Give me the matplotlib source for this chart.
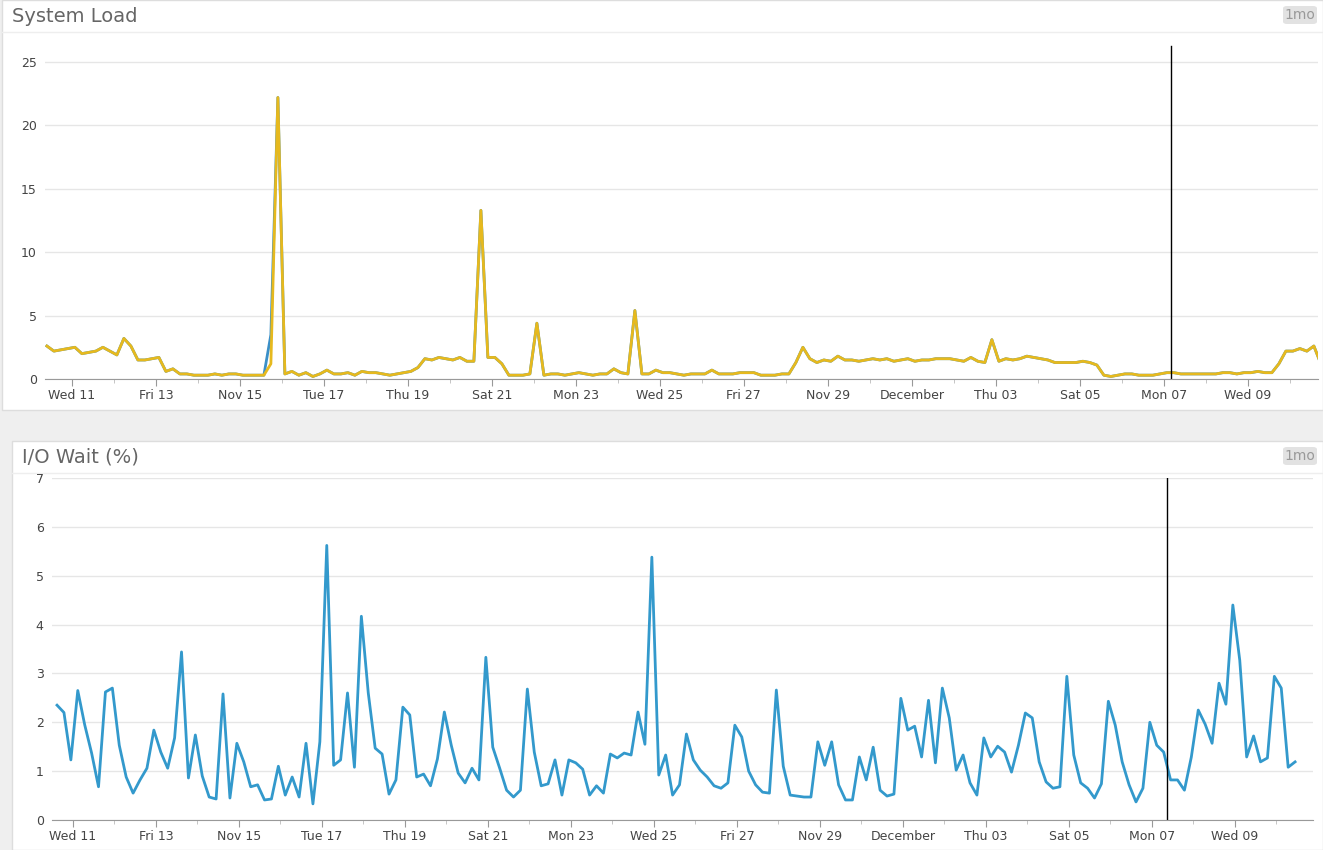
import matplotlib
matplotlib.use("Agg")
import matplotlib.pyplot as plt
from matplotlib.patches import FancyBboxPatch, Rectangle
import numpy as np

W, H = 1323, 850
tick_days = list(range(0, 29, 2))
tick_labels = ["Wed 11", "Fri 13", "Nov 15", "Tue 17", "Thu 19", "Sat 21", "Mon 23",
               "Wed 25", "Fri 27", "Nov 29", "December", "Thu 03", "Sat 05", "Mon 07", "Wed 09"]
marker_day = 26.2
step_days = 4 / 24

load_start = -0.595
load = [2.6, 2.2, 2.3, 2.4, 2.5, 2.0, 2.1, 2.2, 2.5, 2.2, 1.9, 3.2, 2.6, 1.5, 1.5, 1.6, 1.7, 0.6, 0.8, 0.4,
        0.4, 0.3, 0.3, 0.3, 0.4, 0.3, 0.4, 0.4, 0.3, 0.3, 0.3, 0.3, 1.2, 22.2, 0.4, 0.6, 0.3, 0.5, 0.2, 0.4,
        0.7, 0.4, 0.4, 0.5, 0.3, 0.6, 0.5, 0.5, 0.4, 0.3, 0.4, 0.5, 0.6, 0.9, 1.6, 1.5, 1.7, 1.6, 1.5, 1.7,
        1.4, 1.4, 13.3, 1.7, 1.7, 1.2, 0.3, 0.3, 0.3, 0.4, 4.4, 0.3, 0.4, 0.4, 0.3, 0.4, 0.5, 0.4, 0.3, 0.4,
        0.4, 0.8, 0.5, 0.4, 5.4, 0.4, 0.4, 0.7, 0.5, 0.5, 0.4, 0.3, 0.4, 0.4, 0.4, 0.7, 0.4, 0.4, 0.4, 0.5,
        0.5, 0.5, 0.3, 0.3, 0.3, 0.4, 0.4, 1.3, 2.5, 1.6, 1.3, 1.5, 1.4, 1.8, 1.5, 1.5, 1.4, 1.5, 1.6, 1.5,
        1.6, 1.4, 1.5, 1.6, 1.4, 1.5, 1.5, 1.6, 1.6, 1.6, 1.5, 1.4, 1.7, 1.4, 1.3, 3.1, 1.4, 1.6, 1.5, 1.6,
        1.8, 1.7, 1.6, 1.5, 1.3, 1.3, 1.3, 1.3, 1.4, 1.3, 1.1, 0.3, 0.2, 0.3, 0.4, 0.4, 0.3, 0.3, 0.3, 0.4,
        0.5, 0.5, 0.4, 0.4, 0.4, 0.4, 0.4, 0.4, 0.5, 0.5, 0.4, 0.5, 0.5, 0.6, 0.5, 0.5, 1.2, 2.2, 2.2, 2.4,
        2.2, 2.6, 1.2, 2.0]
load_blue_spike = [(32, 3.5)]

iow_start = -0.385
iowait = [2.35, 2.2, 1.23, 2.65, 1.95, 1.37, 0.68, 2.62, 2.7, 1.53, 0.88, 0.55, 0.82, 1.06, 1.84, 1.39, 1.06,
          1.68, 3.44, 0.86, 1.74, 0.9, 0.47, 0.43, 2.58, 0.45, 1.57, 1.19, 0.68, 0.72, 0.41, 0.43, 1.1, 0.51,
          0.88, 0.47, 1.57, 0.33, 1.6, 5.62, 1.12, 1.23, 2.6, 1.08, 4.17, 2.6, 1.47, 1.35, 0.53, 0.82, 2.31,
          2.15, 0.88, 0.94, 0.7, 1.25, 2.21, 1.53, 0.96, 0.76, 1.06, 0.82, 3.33, 1.49, 1.06, 0.61, 0.47, 0.61,
          2.68, 1.39, 0.7, 0.74, 1.23, 0.51, 1.23, 1.17, 1.04, 0.51, 0.7, 0.55, 1.35, 1.27, 1.37, 1.33, 2.21,
          1.55, 5.38, 0.92, 1.33, 0.51, 0.72, 1.76, 1.23, 1.02, 0.88, 0.7, 0.65, 0.76, 1.94, 1.7, 1.0, 0.72,
          0.57, 0.55, 2.66, 1.1, 0.51, 0.49, 0.47, 0.47, 1.6, 1.12, 1.6, 0.72, 0.41, 0.41, 1.29, 0.82, 1.49,
          0.61, 0.49, 0.53, 2.49, 1.84, 1.92, 1.29, 2.45, 1.17, 2.7, 2.09, 1.02, 1.33, 0.76, 0.51, 1.68, 1.29,
          1.51, 1.39, 0.98, 1.53, 2.19, 2.09, 1.19, 0.78, 0.65, 0.68, 2.94, 1.33, 0.76, 0.65, 0.45, 0.74, 2.43,
          1.94, 1.19, 0.72, 0.37, 0.65, 2.0, 1.53, 1.39, 0.82, 0.82, 0.61, 1.29, 2.25, 1.96, 1.57, 2.8, 2.37,
          4.4, 3.27, 1.29, 1.72, 1.19, 1.27, 2.94, 2.7, 1.08, 1.19]

fig = plt.figure(figsize=(W / 100, H / 100), dpi=100)
fig.patch.set_facecolor("#efefef")

def px_rect(x0, y0, x1, y1):
    return [x0 / W, 1 - y1 / H, (x1 - x0) / W, (y1 - y0) / H]

def card(x0, y0, x1, y1, title, title_x):
    fig.patches.append(Rectangle((x0 / W, 1 - y1 / H), (x1 - x0) / W, (y1 - y0) / H,
                                 transform=fig.transFigure, facecolor="white",
                                 edgecolor="#dddddd", lw=1, zorder=-10))
    fig.lines.append(plt.Line2D([x0 / W, x1 / W], [1 - (y0 + 32) / H] * 2,
                                transform=fig.transFigure, color="#eeeeee", lw=1, zorder=-9))
    fig.text(title_x / W, 1 - (y0 + 16) / H, title, fontsize=14, color="#666666",
             va="center", ha="left")
    fig.patches.append(FancyBboxPatch((1283 / W, 1 - (y0 + 24) / H), 34 / W, 18 / H,
                                      boxstyle="round,pad=0,rounding_size=0.003",
                                      transform=fig.transFigure, facecolor="#e2e2e2",
                                      edgecolor="none", zorder=-9))
    fig.text(1300 / W, 1 - (y0 + 15) / H, "1mo", fontsize=10, color="#999999",
             ha="center", va="center")

def style(ax, ymax, yticks):
    ax.set_zorder(5)
    ax.set_ylim(0, ymax)
    ax.set_yticks(yticks)
    ax.set_xticks(tick_days)
    ax.set_xticklabels(tick_labels)
    ax.set_xticks([d + 1 for d in tick_days], minor=True)
    for s in ["left", "right", "top"]:
        ax.spines[s].set_visible(False)
    ax.spines["bottom"].set_color("#999999")
    ax.grid(axis="y", color="#e6e6e6", lw=1)
    ax.set_axisbelow(True)
    ax.tick_params(axis="y", length=0, labelsize=9, colors="#444444", pad=6)
    ax.tick_params(axis="x", which="major", length=5, color="#999999", labelsize=9,
                   labelcolor="#444444", pad=2)
    ax.tick_params(axis="x", which="minor", length=3, color="#bbbbbb")
    ax.patch.set_alpha(0)

card(2, 0, 1323, 410, "System Load", 12)
card(12, 441, 1323, 850, "I/O Wait (%)", 22)

ax1 = fig.add_axes(px_rect(45, 43, 1318, 379))
x1 = load_start + np.arange(len(load)) * step_days
blue = list(load)
for i, v in load_blue_spike:
    blue[i] = v
ax1.plot(x1, blue, color="#3a8fc8", lw=2)
ax1.plot(x1, load, color="#e6b91e", lw=2)
ax1.set_xlim(-0.64, 29.67)
ax1.axvline(marker_day - 0.03, color="black", lw=1, ymax=0.99)
style(ax1, 26.5, [0, 5, 10, 15, 20, 25])

ax2 = fig.add_axes(px_rect(52, 478, 1313, 820))
x2 = iow_start + np.arange(len(iowait)) * step_days
ax2.plot(x2, iowait, color="#3399cc", lw=2)
ax2.set_xlim(-0.506, 29.88)
ax2.axvline(marker_day + 0.15, color="black", lw=1)
style(ax2, 7, list(range(0, 8)))

fig.savefig("out.png", dpi=100, facecolor=fig.get_facecolor())
